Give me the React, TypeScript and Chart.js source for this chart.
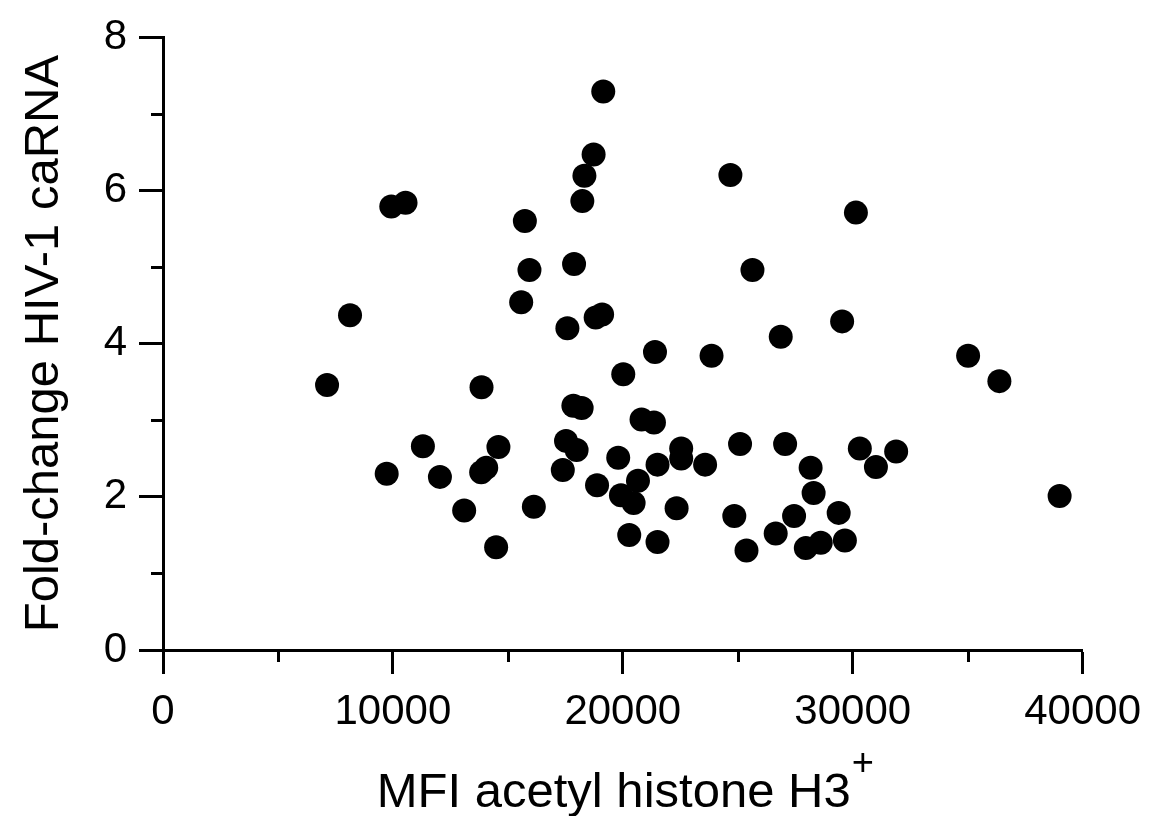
import React, { useEffect, useRef } from "react";
import { Chart, registerables } from "chart.js";

Chart.register(...registerables);

// MFI acetyl histone H3+ (x) and fold-change HIV-1 caRNA (y)
const mfiValues: number[] = [
  19150, 18730, 18330, 18240, 10550, 9930, 15740, 15940, 17880, 15580,
  8135, 17590, 18820, 19100, 21400, 7136, 13855, 20020, 17850, 18210,
  20815, 21355, 17530, 17990, 11305, 14590, 22540, 22540, 23580, 19800,
  21510, 9730, 12045, 14060, 13840, 17390, 18880, 20660, 19920, 20470,
  13100, 16130, 22340, 14490, 20280, 21510, 25100, 27060, 28170, 30310,
  31890, 31010, 28300, 39000, 24850, 25380, 27450, 26650, 29390, 27960,
  28610, 29660, 24680, 30140, 25640, 29540, 26870, 23860, 35020, 36380,
];
const foldChange: number[] = [
  7.29, 6.47, 6.19, 5.86, 5.84, 5.79, 5.6, 4.96, 5.04, 4.54,
  4.37, 4.2, 4.34, 4.38, 3.89, 3.46, 3.43, 3.6, 3.19, 3.16,
  3.01, 2.97, 2.73, 2.61, 2.66, 2.65, 2.63, 2.5, 2.42, 2.51,
  2.42, 2.3, 2.26, 2.38, 2.32, 2.35, 2.15, 2.21, 2.02, 1.92,
  1.82, 1.87, 1.85, 1.34, 1.5, 1.41, 2.69, 2.69, 2.38, 2.63,
  2.59, 2.39, 2.05, 2.01, 1.75, 1.3, 1.75, 1.52, 1.79, 1.33,
  1.4, 1.43, 6.2, 5.71, 4.96, 4.29, 4.09, 3.84, 3.84, 3.51,
];

const xMajorTicks: number[] = [0, 10000, 20000, 30000, 40000];
const xMinorTicks: number[] = [5000, 15000, 25000, 35000];
const yMajorTicks: number[] = [0, 2, 4, 6, 8];
const yMinorTicks: number[] = [1, 3, 5, 7];

const xTitleMain = "MFI acetyl histone H3";
const xTitleSup = "+";
const yTitle = "Fold-change HIV-1 caRNA";

const FONT = '"Liberation Sans", Arial, Helvetica, sans-serif';

const minorTickPlugin = {
  id: "minorTicksAndTitle",
  afterDraw(chart: any) {
    const { ctx, chartArea, scales } = chart;
    const xs = scales.x;
    const ys = scales.y;
    ctx.save();
    ctx.strokeStyle = "#000";
    ctx.lineWidth = 3;
    ctx.lineCap = "butt";
    for (const v of xMinorTicks) {
      const px = Math.round(xs.getPixelForValue(v)) + 0.5;
      ctx.beginPath();
      ctx.moveTo(px, chartArea.bottom);
      ctx.lineTo(px, chartArea.bottom + 12);
      ctx.stroke();
    }
    for (const v of yMinorTicks) {
      const py = Math.round(ys.getPixelForValue(v)) + 0.5;
      ctx.beginPath();
      ctx.moveTo(chartArea.left, py);
      ctx.lineTo(chartArea.left - 12, py);
      ctx.stroke();
    }
    // x-axis title with superscript
    const mainFont = `49px ${FONT}`;
    const supFont = `38px ${FONT}`;
    ctx.fillStyle = "#000";
    ctx.textBaseline = "alphabetic";
    ctx.textAlign = "left";
    ctx.font = mainFont;
    const wMain = ctx.measureText(xTitleMain).width;
    ctx.font = supFont;
    const wSup = ctx.measureText(xTitleSup).width;
    const cx = (chartArea.left + chartArea.right) / 2 + 2;
    const startX = cx - (wMain + wSup) / 2;
    const baseY = chartArea.bottom + 157;
    ctx.font = mainFont;
    ctx.fillText(xTitleMain, startX, baseY);
    ctx.font = supFont;
    ctx.fillText(xTitleSup, startX + wMain + 1, baseY - 32);
    ctx.restore();
  },
};

export default function App() {
  const canvasRef = useRef<HTMLCanvasElement | null>(null);

  useEffect(() => {
    if (!canvasRef.current) return;
    const points = mfiValues.map((x, i) => ({ x, y: foldChange[i] }));
    const chart = new Chart(canvasRef.current, {
      type: "scatter",
      data: {
        datasets: [
          {
            data: points,
            backgroundColor: "#000",
            borderColor: "#000",
            borderWidth: 0,
            pointRadius: 12,
            pointHoverRadius: 12,
          },
        ],
      },
      options: {
        animation: false,
        responsive: false,
        maintainAspectRatio: false,
        events: [],
        layout: { padding: { left: 0, top: 33, right: 70, bottom: 0 } },
        plugins: {
          legend: { display: false },
          tooltip: { enabled: false },
          title: { display: false },
        },
        scales: {
          x: {
            type: "linear",
            position: "bottom",
            min: 0,
            max: 40000,
            afterFit: (s: any) => {
              s.height = 166;
            },
            afterBuildTicks: (s: any) => {
              s.ticks = xMajorTicks.map((v) => ({ value: v }));
            },
            ticks: {
              color: "#000",
              font: { family: FONT, size: 42 },
              padding: 13,
              maxRotation: 0,
              autoSkip: false,
              callback: (v: any) => String(v),
            },
            grid: {
              display: true,
              drawOnChartArea: false,
              drawTicks: true,
              tickLength: 24,
              tickWidth: 3,
              tickColor: "#000",
            },
            border: { display: true, color: "#000", width: 3 },
            title: { display: false },
          },
          y: {
            type: "linear",
            position: "left",
            min: 0,
            max: 8,
            afterFit: (s: any) => {
              s.width = 163;
            },
            afterBuildTicks: (s: any) => {
              s.ticks = yMajorTicks.map((v) => ({ value: v }));
            },
            ticks: {
              color: "#000",
              font: { family: FONT, size: 42 },
              padding: 12,
              autoSkip: false,
              callback: (v: any) => String(v),
            },
            grid: {
              display: true,
              drawOnChartArea: false,
              drawTicks: true,
              tickLength: 24,
              tickWidth: 3,
              tickColor: "#000",
            },
            border: { display: true, color: "#000", width: 3 },
            title: {
              display: true,
              text: yTitle,
              color: "#000",
              font: { family: FONT, size: 49 },
              padding: { top: 15, bottom: 0 },
            },
          },
        },
      },
      plugins: [minorTickPlugin],
    });
    return () => chart.destroy();
  }, []);

  return (
    <div style={{ position: "fixed", left: 0, top: 0, width: 1154, height: 816, background: "#fff" }}>
      <canvas ref={canvasRef} width={1154} height={816} style={{ width: 1154, height: 816, display: "block" }} />
    </div>
  );
}
